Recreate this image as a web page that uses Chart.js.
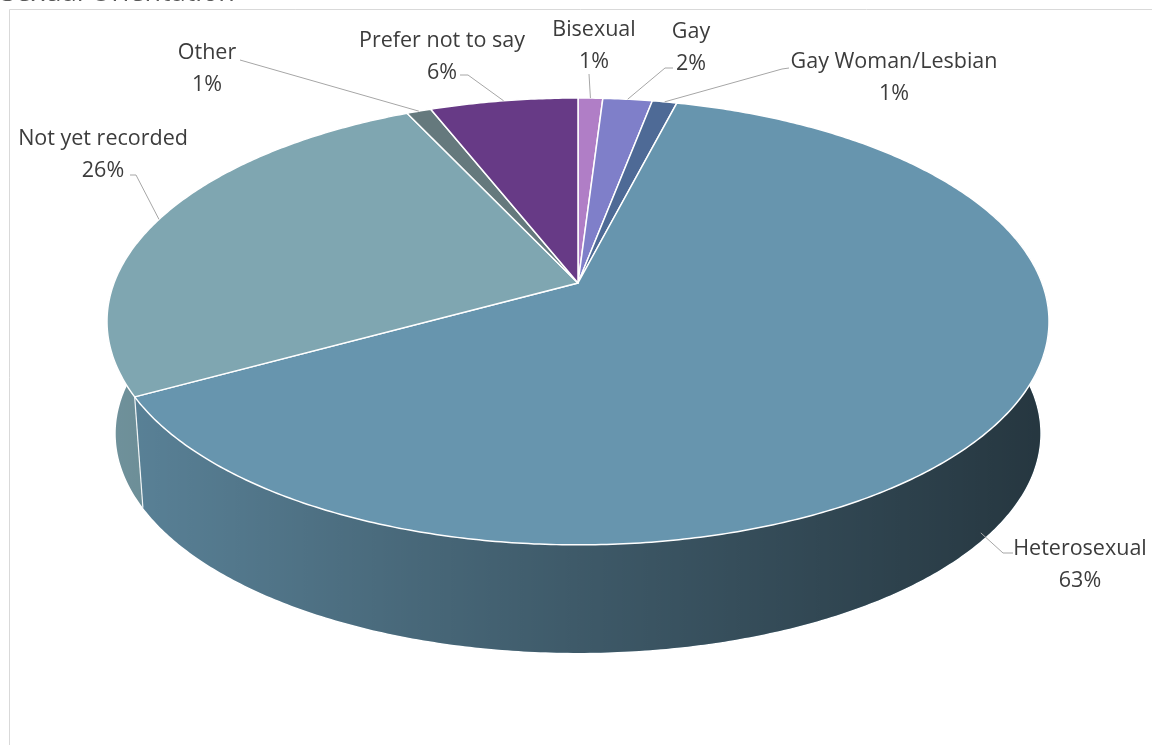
<!DOCTYPE html>
<html>
<head>
<meta charset="utf-8">
<script src="https://cdn.jsdelivr.net/npm/chart.js@4.4.0/dist/chart.umd.min.js"></script>
<style>
  html, body { margin: 0; padding: 0; background: #fff; }
  #wrap { position: relative; width: 1162px; height: 745px; }
</style>
</head>
<body>
<div id="wrap"><canvas id="pieChart"></canvas></div>
<script>
const categories = ["Bisexual", "Gay", "Gay Woman/Lesbian", "Heterosexual", "Not yet recorded", "Other", "Prefer not to say"];
const shares = [1, 2, 1, 63, 26, 1, 6];
const sliceColors = ["#b07ec6", "#7f7fc9", "#4e6a96", "#6795ae", "#7fa6b1", "#65797d", "#673a86"];

// label placement: [centre x, baseline of the name line]
const labelPos = [[594, 36], [691, 38], [894, 68], [1080, 555], [103, 145], [207, 59], [442, 47]];
// leader lines start next to the label, some with a short horizontal elbow
const leaderFrom = [[589, 74], [673, 68], [789, 68], [1013, 553], [130, 175], [240, 60], [460, 75]];
const leaderElbow = [null, [665, 68], [782, 69], [1003, 553], [136, 175], null, [468, 75]];

const FONT = "21.5px 'Open Sans'";
const TEXT = "#3c3c3c";

// tilted-disc geometry, relative to the pie radius Chart.js works out
const TILT = 0.172;
const STRETCH_X = 2.508;
const STRETCH_Y = 1.172;
const DEPTH = 0.584;
const VANISH = 32.9;

function makeView(arc) {
  const r = arc.outerRadius, cx = arc.x, cy = arc.y;
  const R = r * STRETCH_X, Ry = r * STRETCH_Y;
  const vpY = cy + r * VANISH;
  const frontTop = cy + Ry / (1 - TILT);
  const sB = (vpY - frontTop - r * DEPTH) / (vpY - frontTop);
  const top = (a) => {
    const u = Math.cos(a), v = Math.sin(a), s = 1 / (1 - TILT * v);
    return [cx + R * u * s, cy + Ry * v * s];
  };
  const bottom = (a) => {
    const p = top(a);
    return [cx + (p[0] - cx) * sB, vpY + (p[1] - vpY) * sB];
  };
  return { cx, cy, top, bottom, left: cx - R * 1.02, right: cx + R * 1.02 };
}

function sample(a1, a2) {
  const n = Math.max(2, Math.ceil((a2 - a1) / 0.01));
  const out = [];
  for (let i = 0; i <= n; i++) out.push(a1 + (a2 - a1) * i / n);
  return out;
}

const pie3d = {
  id: "pie3d",
  beforeDraw(chart) {
    const ctx = chart.ctx;
    ctx.save();
    ctx.strokeStyle = "#d9d9d9";
    ctx.lineWidth = 1;
    ctx.beginPath();
    ctx.moveTo(9.5, chart.height);
    ctx.lineTo(9.5, 9.5);
    ctx.lineTo(1152, 9.5);
    ctx.stroke();
    // chart title sits almost entirely above the top edge of the frame
    ctx.fillStyle = "#595959";
    ctx.font = "27px 'Open Sans'";
    ctx.textBaseline = "alphabetic";
    ctx.fillText("Sexual Orientation", 1, 1);
    ctx.restore();
  },
  beforeDatasetsDraw(chart) {
    const ctx = chart.ctx;
    const arcs = chart.getDatasetMeta(0).data;
    const view = makeView(arcs[0]);
    const lo = -0.35, hi = Math.PI + 0.35;

    const shade = ctx.createLinearGradient(view.left, 0, view.right, 0);
    shade.addColorStop(0, "rgba(0,0,0,0.12)");
    shade.addColorStop(0.5, "rgba(0,0,0,0.40)");
    shade.addColorStop(1, "rgba(0,0,0,0.64)");

    ctx.save();
    // side walls
    arcs.forEach((arc) => {
      const a1 = Math.max(arc.startAngle, lo), a2 = Math.min(arc.endAngle, hi);
      if (a2 <= a1) return;
      const angles = sample(a1, a2);
      const path = new Path2D();
      angles.forEach((a, j) => {
        const p = view.top(a);
        if (j === 0) path.moveTo(p[0], p[1]); else path.lineTo(p[0], p[1]);
      });
      angles.slice().reverse().forEach((a) => {
        const p = view.bottom(a);
        path.lineTo(p[0], p[1]);
      });
      path.closePath();
      ctx.fillStyle = arc.options.backgroundColor;
      ctx.fill(path);
      ctx.fillStyle = shade;
      ctx.fill(path);
    });
    // vertical seams between front slices
    ctx.strokeStyle = "rgba(255,255,255,0.9)";
    ctx.lineWidth = 1.2;
    arcs.forEach((arc) => {
      const a = arc.startAngle;
      if (Math.sin(a) < 0.05) return;
      const p = view.top(a), q = view.bottom(a);
      ctx.beginPath();
      ctx.moveTo(p[0], p[1]);
      ctx.lineTo(q[0], q[1]);
      ctx.stroke();
    });
    // top face
    arcs.forEach((arc) => {
      const path = new Path2D();
      path.moveTo(view.cx, view.cy);
      sample(arc.startAngle, arc.endAngle).forEach((a) => {
        const p = view.top(a);
        path.lineTo(p[0], p[1]);
      });
      path.closePath();
      ctx.fillStyle = arc.options.backgroundColor;
      ctx.fill(path);
      ctx.strokeStyle = arc.options.borderColor;
      ctx.lineWidth = arc.options.borderWidth;
      ctx.lineJoin = "round";
      ctx.stroke(path);
    });
    ctx.restore();
    return false;
  },
  afterDraw(chart) {
    const ctx = chart.ctx;
    const arcs = chart.getDatasetMeta(0).data;
    const view = makeView(arcs[0]);
    const values = chart.data.datasets[0].data;
    const total = values.reduce((s, v) => s + v, 0);

    ctx.save();
    ctx.strokeStyle = "#a6a6a6";
    ctx.lineWidth = 1;
    arcs.forEach((arc, i) => {
      const mid = (arc.startAngle + arc.endAngle) / 2;
      let end = view.top(mid);
      if (Math.sin(mid) > 0.3) {
        const b = view.bottom(mid);
        end = [end[0] + (b[0] - end[0]) * 0.92, end[1] + (b[1] - end[1]) * 0.92];
      }
      ctx.beginPath();
      ctx.moveTo(leaderFrom[i][0], leaderFrom[i][1]);
      if (leaderElbow[i]) ctx.lineTo(leaderElbow[i][0], leaderElbow[i][1]);
      ctx.lineTo(end[0], end[1]);
      ctx.stroke();
    });

    ctx.fillStyle = TEXT;
    ctx.font = FONT;
    ctx.textAlign = "center";
    ctx.textBaseline = "alphabetic";
    chart.data.labels.forEach((name, i) => {
      const [x, y] = labelPos[i];
      const pct = Math.round(values[i] / total * 100) + "%";
      ctx.fillText(name, x, y);
      ctx.fillText(pct, x, y + 32);
    });
    ctx.restore();
  },
};

window.addEventListener("DOMContentLoaded", () => {
  new Chart(document.getElementById("pieChart"), {
    type: "pie",
    data: {
      labels: categories,
      datasets: [{
        data: shares,
        backgroundColor: sliceColors,
        borderColor: "#ffffff",
        borderWidth: 1.5,
      }],
    },
    options: {
      responsive: true,
      maintainAspectRatio: false,
      devicePixelRatio: 1,
      animation: false,
      events: [],
      radius: 185,
      layout: { padding: { left: 107, right: 113, top: 98, bottom: 277 } },
      plugins: {
        legend: { display: false },
        title: { display: false },
        tooltip: { enabled: false },
      },
    },
    plugins: [pie3d],
  });
});
</script>
</body>
</html>
